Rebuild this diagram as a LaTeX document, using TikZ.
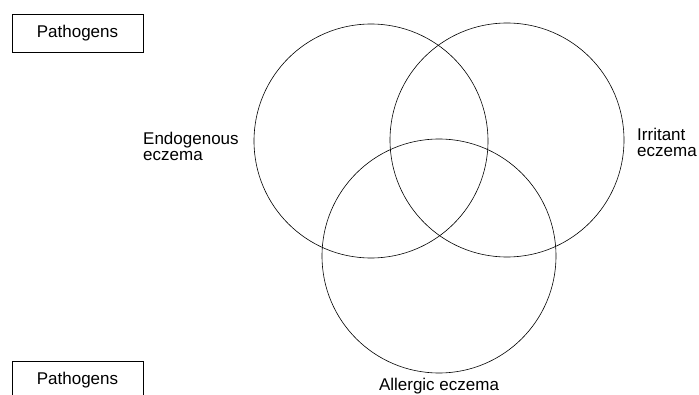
\documentclass[tikz,border=0pt]{standalone}
\usepackage{fontspec}
\setmainfont{Liberation Sans}
\usetikzlibrary{positioning}
\tikzset{
    ring/.style={
        draw=black,line width=0.6pt,circle,
        minimum size=234pt,inner sep=0pt
    },
    tag/.style={
        draw=black,line width=0.8pt,
        minimum width=131pt,minimum height=38pt,inner sep=0pt,
        font=\fontsize{17}{16}\selectfont
    },
    caption/.style={
        inner sep=0pt,align=left,
        font=\fontsize{17}{16}\selectfont
    }
}

\begin{document}
\begin{tikzpicture}[x=1pt,y=1pt]

\useasboundingbox (0,0) rectangle (699,394);
\clip (0,0) rectangle (699,394);

% the three overlapping circles
\node[ring] (endo) at (371,253) {};
\node[ring] (irrit) at (507,254) {};
\node[ring] (aller) at (439,138) {};

% circle captions
\node[caption,anchor=base west] (endolabel) at (143,233.3) {Endogenous\\eczema};
\node[caption,anchor=base west] (irritlabel) at (637,237.5) {Irritant\\eczema};
\node[caption,anchor=base] (allerlabel) at (439,4) {Allergic eczema};

% boxes on the left
\node[tag] (pathtop) at (77.5,361) {Pathogens};
\node[tag] (pathbot) at (77.5,14) {Pathogens};

\end{tikzpicture}
\end{document}
